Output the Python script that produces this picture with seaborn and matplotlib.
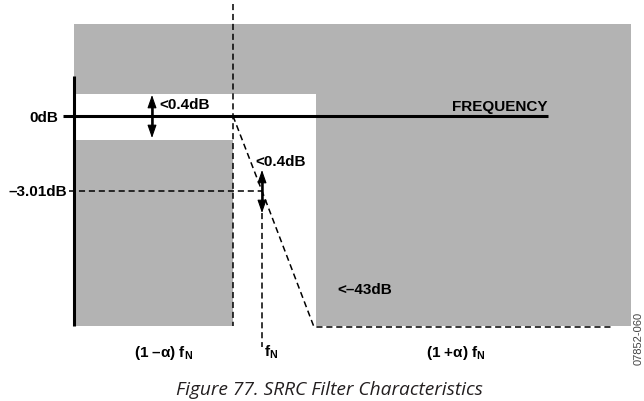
import matplotlib
matplotlib.use("Agg")
import matplotlib.pyplot as plt
import seaborn as sns
import pandas as pd

sns.set_theme(style="white")
plt.rcParams["font.family"] = ["Liberation Sans", "DejaVu Sans"]
plt.rcParams["text.color"] = "black"
plt.rcParams["mathtext.fontset"] = "custom"
plt.rcParams["mathtext.rm"] = "Liberation Sans:bold"
plt.rcParams["mathtext.bf"] = "Liberation Sans:bold"
plt.rcParams["mathtext.it"] = "Liberation Sans:bold"

# ---- schematic data (diagram coordinates: x = frequency axis, y = attenuation axis, downwards) ----
# band edges along the frequency axis
band_edges_x = [74, 233, 262, 316, 631]          # axis, (1-a)fN, fN, (1+a)fN, right limit of mask
mask_top_y = 25
passband_top_y = 95
passband_bottom_y = 141
mask_bottom_y = 327
# attenuation levels
level_labels = ["0dB", "\u20133.01dB"]
level_y = [117, 192]
# roll-off curve (dashed)
rolloff_x = [233, 262, 314, 613]
rolloff_y = [117, 192, 328, 328]
# ripple annotations
ripple_text = ["<0.4dB", "<0.4dB"]
ripple_x = [152, 262]
ripple_top = [96, 171]
ripple_mid = [117, 192]
ripple_bottom = [139, 214]
# frequency labels
freq_labels = ["(1 \u2013\u03b1) f$_\\mathbf{N}$", "f$_\\mathbf{N}$", "(1 +\u03b1) f$_\\mathbf{N}$"]
freq_label_x = [164, 264, 456]
stop_label = "<\u201343dB"
axis_label = "FREQUENCY"
caption = "Figure 77. SRRC Filter Characteristics"

GRAY = "#b3b3b3"

fig = plt.figure(figsize=(6.44, 4.02), dpi=100)
ax = fig.add_axes([0, 0, 1, 1])

x_ax, x_lo, x_fn, x_hi, x_right = band_edges_x
# gray mask
ax.fill_between([x_ax, x_right], mask_top_y, mask_bottom_y, color=GRAY, lw=0, zorder=1)
# white pass region and transition gap
ax.fill_between([x_ax, x_hi], passband_top_y, passband_bottom_y, color="white", lw=0, zorder=2)
ax.fill_between([x_lo, x_hi], passband_top_y, mask_bottom_y + 2, color="white", lw=0, zorder=2)

dash = (0, (4, 2.5))
# vertical axis line
ax.plot([x_ax, x_ax], [77, mask_bottom_y], color="black", lw=2.2, zorder=5, solid_capstyle="butt")
# 0dB horizontal line
ax.plot([63, 548], [level_y[0], level_y[0]], color="black", lw=2.2, zorder=5, solid_capstyle="butt")
# -3.01dB dashed line
ax.plot([69, x_fn], [level_y[1], level_y[1]], color="black", lw=1.1, ls=dash, zorder=5)
# vertical dashed lines
ax.plot([x_lo, x_lo], [5, mask_bottom_y], color="black", lw=1.1, ls=dash, zorder=5)
ax.plot([x_fn, x_fn], [ripple_bottom[1], 348], color="black", lw=1.1, ls=dash, zorder=5)

# roll-off curve via seaborn
df = pd.DataFrame({"x": rolloff_x, "y": rolloff_y})
sns.lineplot(data=df, x="x", y="y", sort=False, ax=ax, color="black", lw=1.1,
             linestyle=dash, zorder=5)
ax.set_xlim(0, 644)
ax.set_ylim(402, 0)
ax.axis("off")

# ripple double arrows
for i in range(2):
    ax.plot([ripple_x[i], ripple_x[i]], [ripple_top[i] + 8, ripple_bottom[i] - 8],
            color="black", lw=1.8, zorder=6, solid_capstyle="butt")
    for tip in (ripple_top[i], ripple_bottom[i]):
        ax.annotate("", xy=(ripple_x[i], tip), xytext=(ripple_x[i], ripple_mid[i]),
                    arrowprops=dict(arrowstyle="-|>,head_length=0.8,head_width=0.28",
                                    color="black", lw=0.8,
                                    mutation_scale=10, shrinkA=0, shrinkB=0),
                    zorder=6)

fs = 11
kw = dict(fontsize=fs, weight="bold", color="black", zorder=7)
ax.text(58, 122, level_labels[0], ha="right", va="baseline", **kw)
ax.text(67, 196, level_labels[1], ha="right", va="baseline", **kw)
ax.text(159, 109, ripple_text[0], ha="left", va="baseline", **kw)
ax.text(255, 166.5, ripple_text[1], ha="left", va="baseline", **kw)
ax.text(548, 111, axis_label, ha="right", va="baseline", **kw)
ax.text(337, 294.5, stop_label, ha="left", va="baseline", **kw)
ax.text(freq_label_x[0], 357, freq_labels[0], ha="center", va="baseline", **kw)
ax.text(freq_label_x[1], 357, freq_labels[1], ha="left", va="baseline", **kw)
ax.text(freq_label_x[2], 357, freq_labels[2], ha="center", va="baseline", **kw)

ax.text(329, 395, caption, ha="center", va="baseline", fontsize=13.8, style="italic",
        family=["Open Sans", "DejaVu Sans"], color="#231f20")
ax.text(639, 338, "07852-060", ha="center", va="center", rotation=90, fontsize=8,
        color="#444444", family=["Liberation Sans", "DejaVu Sans"])

fig.savefig("out.png", dpi=100)
